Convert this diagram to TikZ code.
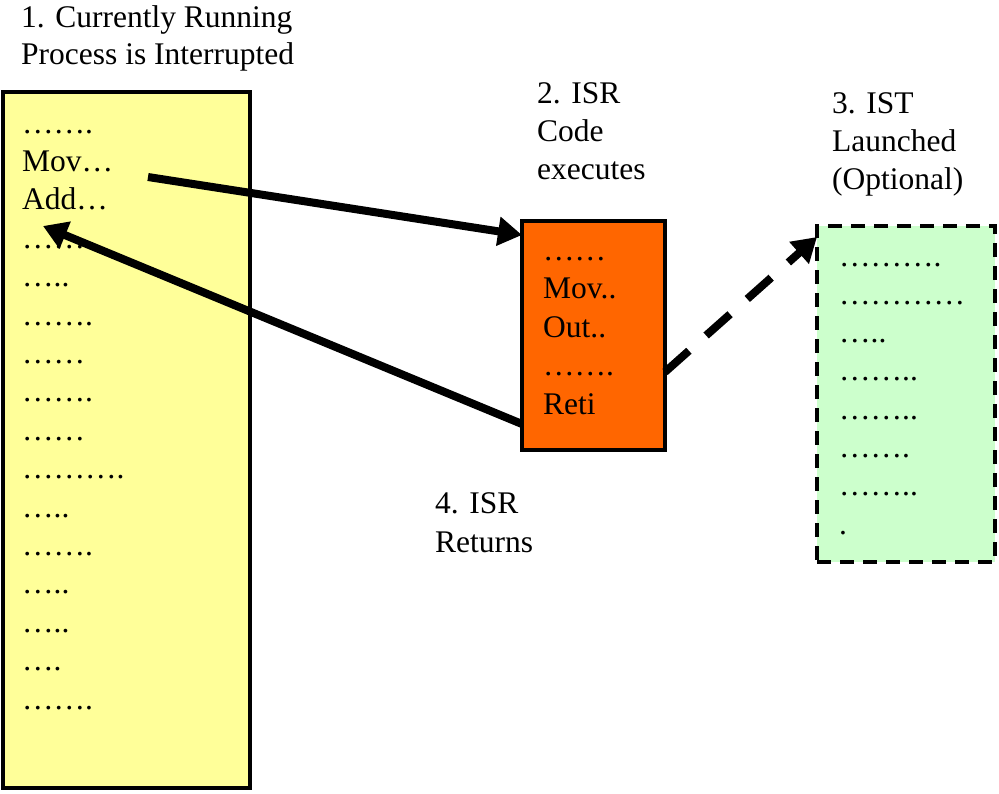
\documentclass[tikz,border=0pt]{standalone}
\usepackage{fontspec}
\setmainfont{Liberation Serif}
\usetikzlibrary{arrows.meta}
\begin{document}
\begin{tikzpicture}[x=1pt,y=-1pt,
  txt/.style={anchor=base west,inner sep=0pt,font=\fontsize{31.5}{38}\selectfont},
  panel/.style={draw=black,anchor=north west,inner sep=0pt,outer sep=0pt},
  flow/.style={line width=8pt,-{Triangle[length=24pt,width=28pt]}},
  flowopt/.style={flow,dash pattern=on 32pt off 23pt}]
\useasboundingbox (0,0) rectangle (999,793);

% program memory of the interrupted process
\node[panel,line width=4pt,fill={rgb,255:red,255;green,255;blue,153},
  minimum width=247pt,minimum height=696pt] (proc) at (3,92) {};
% interrupt service routine
\node[panel,line width=4pt,fill={rgb,255:red,255;green,102;blue,0},
  minimum width=143pt,minimum height=229pt] (isr) at (522,221) {};
% interrupt service thread
\node[panel,line width=4pt,dash pattern=on 14pt off 9pt,
  fill={rgb,255:red,204;green,255;blue,204},
  minimum width=178pt,minimum height=336pt] (ist) at (817,226) {};

% headings
\node[txt] (h1a) at (21,27) {1. Currently Running};
\node[txt] (h1b) at (21,64) {Process is Interrupted};
\node[txt] (h2a) at (537,103) {2. ISR};
\node[txt] (h2b) at (537,141) {Code};
\node[txt] (h2c) at (537,179) {executes};
\node[txt] (h3a) at (832,113) {3. IST};
\node[txt] (h3b) at (832,151) {Launched};
\node[txt] (h3c) at (832,189) {(Optional)};
\node[txt] (h4a) at (435,513) {4. ISR};
\node[txt] (h4b) at (435,552) {Returns};

% process instructions
\foreach \t [count=\i] in {……., Mov…, Add…, ……, ….., ……., ……, ……., ……,
    ………., ….., ……., ….., ….., …., …….}
  \node[txt] (p\i) at (22,{133+38.4*(\i-1)}) {\t};

% ISR instructions
\foreach \t [count=\i] in {……, Mov.., Out.., ……., Reti}
  \node[txt] (r\i) at (543,{260+38.5*(\i-1)}) {\t};

% IST instructions
\foreach \t [count=\i] in {………., …………, ….., …….., …….., ……., …….., .}
  \node[txt] (s\i) at (839,{266+38.3*(\i-1)}) {\t};

% control flow
\coordinate (jump) at (148,177);
\coordinate (back) at (43,226);
\draw[flow] (jump) -- ([yshift=-14pt]isr.north west);
\draw[flow] ([yshift=26pt]isr.south west) -- (back);
\draw[flowopt] ([yshift=78pt]isr.south east) -- ([yshift=-11pt]ist.north west);
\end{tikzpicture}
\end{document}
